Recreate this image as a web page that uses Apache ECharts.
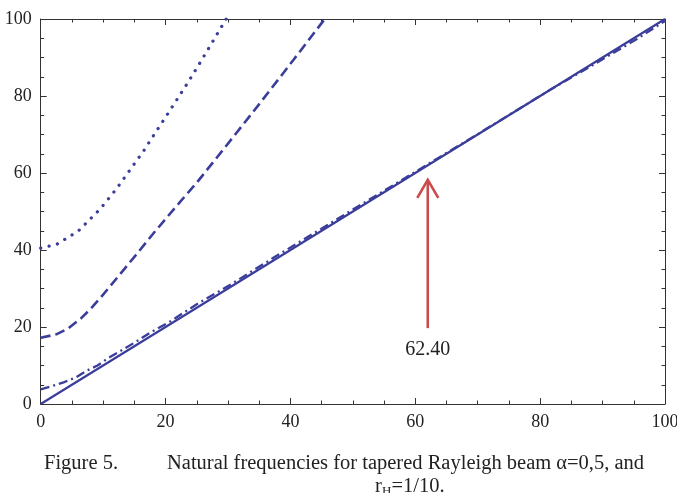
<!DOCTYPE html>
<html>
<head>
<meta charset="utf-8">
<title>Natural frequencies</title>
<script src="https://cdn.jsdelivr.net/npm/echarts@6/dist/echarts.min.js"></script>
<style>
  html, body { margin: 0; padding: 0; background: #fff; }
  #main { width: 677px; height: 493px; }
</style>
</head>
<body>
<div id="main"></div>
<script>
// axis ticks
var tickValues = [0, 20, 40, 60, 80, 100];

// solid line
var solidX = [0, 20, 40, 60, 80, 100];
var solidY = [0, 20, 40, 60, 80, 100];

// dash-dot curve
var dashDotX = [0, 1.9, 3.8, 5.65, 7.3, 9.1, 10.7, 12.3, 15.5, 17.4, 20.7, 25, 30.3, 37.2, 50, 60, 70, 81.6, 88.5, 95.5, 100];
var dashDotY = [3.8, 4.7, 5.7, 6.9, 8.6, 10.0, 11.8, 13.3, 16.4, 18.4, 21.4, 25.9, 30.9, 37.9, 50.5, 60.3, 70.1, 81.6, 88.1, 94.8, 99.5];

// dashed curve
var dashedX = [0, 2.5, 4.3, 6.5, 8.1, 9.8, 12.4, 15.4, 18.3, 21.8, 25, 29.1, 35.1, 40.5, 45.5];
var dashedY = [17.2, 18.1, 19.5, 22.3, 24.9, 28.0, 33.1, 39.0, 44.8, 51.5, 57.5, 65.8, 78.1, 89.4, 100];

// dotted curve
var dottedX = [0, 2.6, 6.0, 9.5, 12.1, 14.3, 16.6, 17.5, 20.8, 23.5, 25.5, 27.5, 29.7];
var dottedY = [40.5, 41.5, 44.9, 50.6, 55.8, 60.8, 66.0, 68.3, 76.5, 83.3, 88.6, 94.0, 100];

// arrow annotation: x, from y, to y, label y
var arrowX = [62];
var arrowFrom = [19.7];
var arrowTo = [58.2];
var arrowLabelY = [14];
var arrowLabel = ['62.40'];

function pairs(xs, ys) {
  var out = [];
  for (var i = 0; i < xs.length; i++) out.push([xs[i], ys[i]]);
  return out;
}

var lineColor = '#3b3d9b';
var arrowColor = '#c94b4e';
var serif = '"Liberation Serif", "DejaVu Serif", serif';

var myChart = echarts.init(document.getElementById('main'));

function axisBase(pos, showLabel) {
  return {
    type: 'value',
    position: pos,
    min: tickValues[0],
    max: tickValues[tickValues.length - 1],
    interval: 20,
    axisLine: { show: true, onZero: false, lineStyle: { color: '#333', width: 1 } },
    axisTick: { show: true, inside: true, length: 6, lineStyle: { color: '#333' } },
    minorTick: { show: true, splitNumber: 4, length: 3.5, lineStyle: { color: '#333' } },
    splitLine: { show: false },
    minorSplitLine: { show: false },
    axisLabel: {
      show: showLabel,
      color: '#222',
      fontFamily: serif,
      fontSize: 18,
      margin: 9
    }
  };
}

var option = {
  animation: false,
  backgroundColor: '#fff',
  grid: { left: 40.7, right: 12, top: 19, bottom: 89, containLabel: false, outerBoundsMode: 'none' },
  xAxis: [axisBase('bottom', true), axisBase('top', false)],
  yAxis: [axisBase('left', true), axisBase('right', false)],
  series: [
    {
      type: 'line', name: 'solid', data: pairs(solidX, solidY),
      showSymbol: false, clip: true,
      lineStyle: { color: lineColor, width: 2.2, type: 'solid' }
    },
    {
      type: 'line', name: 'dashdot', data: pairs(dashDotX, dashDotY),
      showSymbol: false, clip: true,
      lineStyle: { color: lineColor, width: 2.3, type: [9, 4, 2, 4] }
    },
    {
      type: 'line', name: 'dashed', data: pairs(dashedX, dashedY),
      showSymbol: false, clip: true,
      lineStyle: { color: lineColor, width: 2.6, type: [10, 5] }
    },
    {
      type: 'line', name: 'dotted', data: pairs(dottedX, dottedY),
      showSymbol: false, clip: true,
      lineStyle: { color: lineColor, width: 3.2, type: [0.1, 8.5], cap: 'round' }
    },
    {
      type: 'custom', name: 'arrow',
      data: arrowX.map(function (x, i) { return [x, arrowFrom[i], arrowTo[i], arrowLabelY[i]]; }),
      renderItem: function (params, api) {
        var p0 = api.coord([api.value(0), api.value(1)]);
        var p1 = api.coord([api.value(0), api.value(2)]);
        var pl = api.coord([api.value(0), api.value(3)]);
        return {
          type: 'group',
          children: [
            { type: 'line', shape: { x1: p0[0], y1: p0[1], x2: p1[0], y2: p1[1] },
              style: { stroke: arrowColor, lineWidth: 2.6 } },
            { type: 'polyline', shape: { points: [[p1[0] - 10.5, p1[1] + 18], [p1[0], p1[1]], [p1[0] + 10.5, p1[1] + 18]] },
              style: { stroke: arrowColor, lineWidth: 2.6, fill: null } },
            { type: 'text', x: pl[0], y: pl[1],
              style: { text: arrowLabel[params.dataIndex], fill: '#222', font: '20px ' + serif,
                       align: 'center', verticalAlign: 'middle' } }
          ]
        };
      }
    }
  ],
  graphic: [
    { type: 'text', left: 44, top: 453,
      style: { text: 'Figure 5.', fill: '#222', font: '20.5px ' + serif } },
    { type: 'text', left: 167, top: 453,
      style: { text: 'Natural frequencies for tapered Rayleigh beam \u03b1=0,5, and', fill: '#222', font: '20.5px ' + serif } },
    { type: 'text', left: 375, top: 476,
      style: { text: 'r', fill: '#222', font: '20.5px ' + serif } },
    { type: 'text', left: 382, top: 485,
      style: { text: 'H', fill: '#222', font: '13px ' + serif } },
    { type: 'text', left: 391.5, top: 476,
      style: { text: '=1/10.', fill: '#222', font: '20.5px ' + serif } }
  ]
};

myChart.setOption(option);
</script>
</body>
</html>
